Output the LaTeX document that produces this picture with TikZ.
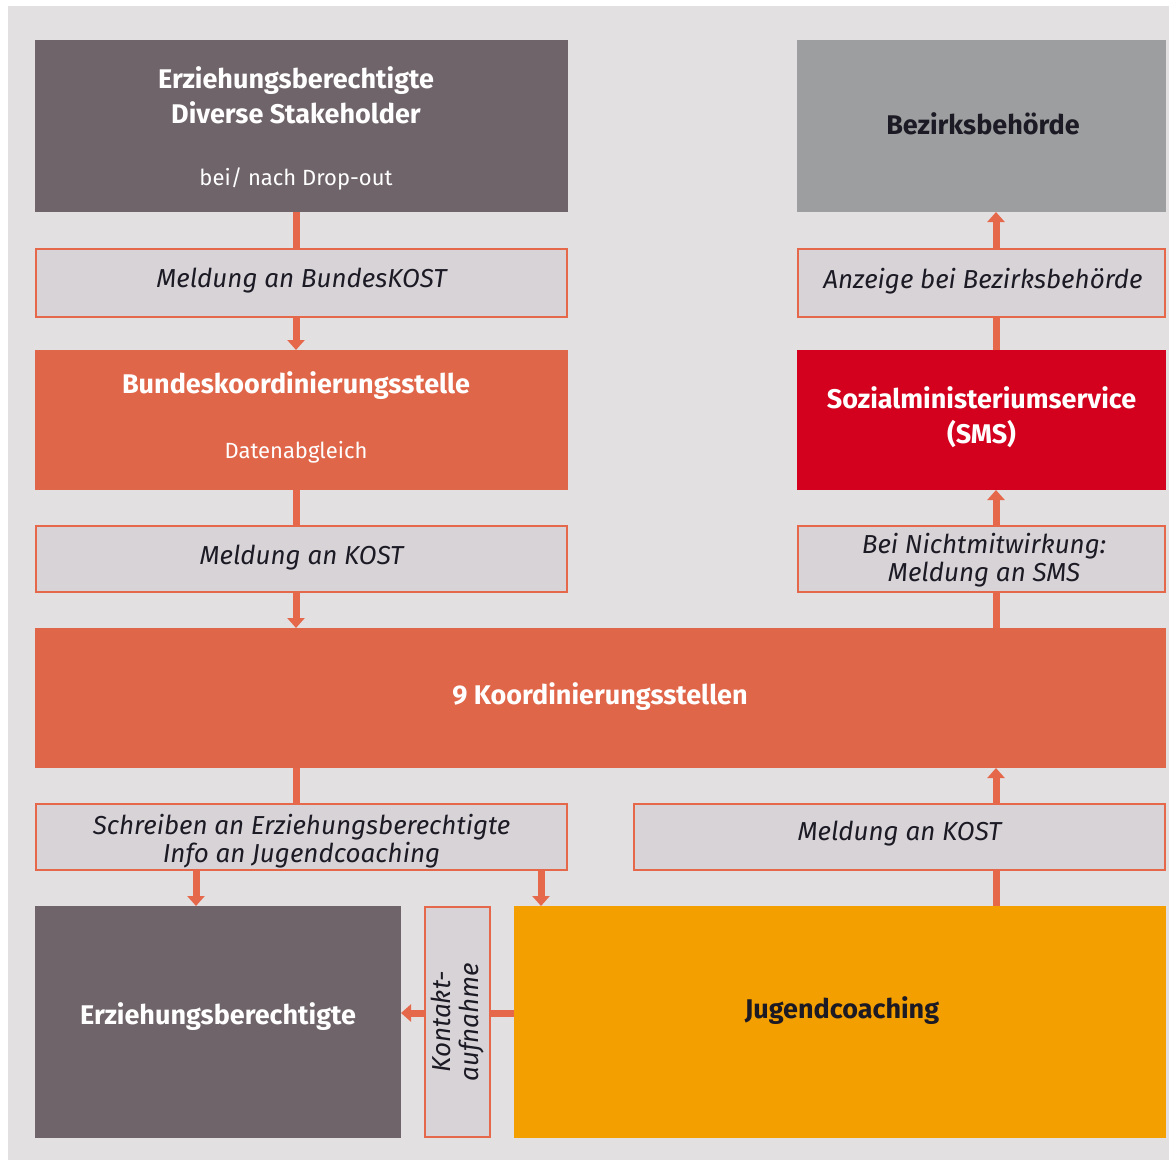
\documentclass[tikz,border=0pt]{standalone}
\usepackage{fontspec}
\setmainfont{Fira Sans}
\usetikzlibrary{arrows.meta,calc}
\definecolor{bgc}{HTML}{E3E0E1}
\definecolor{darkc}{HTML}{6F6469}
\definecolor{labfill}{HTML}{D8D3D7}
\definecolor{orc}{HTML}{E0664A}
\definecolor{orline}{HTML}{E5684B}
\definecolor{grayc}{HTML}{9D9E9F}
\definecolor{redc}{HTML}{D3001E}
\definecolor{yelc}{HTML}{F39F00}
\definecolor{txtc}{HTML}{1C1A24}
\tikzset{
  box/.style={rectangle, inner sep=0pt, outer sep=0pt, draw=none},
  labbox/.style={rectangle, inner sep=0pt, outer sep=0pt, fill=labfill, draw=orline, line width=2pt},
  bigtxt/.style={font=\fontsize{27}{35}\selectfont\bfseries, align=center, inner sep=0pt},
  subtxt/.style={font=\fontsize{22}{28}\selectfont, align=center, inner sep=0pt},
  labtxt/.style={font=\fontsize{26}{28}\selectfont\itshape, text=txtc, align=center, inner sep=0pt},
  conn/.style={draw=orline, line width=7pt},
  arr/.style={conn, -{Triangle[width=17pt,length=10pt]}},
}
\begin{document}
\begin{tikzpicture}[x=1pt,y=-1pt]
\useasboundingbox (0,0) rectangle (1169,1160);
\fill[bgc] (8,6) rectangle (1169,1160);
% helper coordinates for connector lines
\coordinate (lx) at (296,0);
\coordinate (rx) at (996,0);
\coordinate (ax) at (196,0);
\coordinate (bx) at (541,0);
\coordinate (ky) at (0,1013);
% left column
\node[box, fill=darkc, minimum width=533pt, minimum height=172pt] (b1) at (301.5,126) {};
\node[bigtxt, text=white] (b1t) at (296,95) {Erziehungsberechtigte\\Diverse Stakeholder};
\node[subtxt, text=white] (b1s) at (296,179) {bei/ nach Drop-out};
\node[labbox, minimum width=531pt, minimum height=68pt] (l1) at (301.5,283) {};
\node[labtxt] (l1t) at (301.5,281) {Meldung an BundesKOST};
\node[box, fill=orc, minimum width=533pt, minimum height=140pt] (b2) at (301.5,420) {};
\node[bigtxt, text=white] (b2t) at (296,386) {Bundeskoordinierungsstelle};
\node[subtxt, text=white] (b2s) at (296,452) {Datenabgleich};
\node[labbox, minimum width=531pt, minimum height=66pt] (l2) at (301.5,559) {};
\node[labtxt] (l2t) at (301.5,558) {Meldung an KOST};
% right column
\node[box, fill=grayc, minimum width=369pt, minimum height=172pt] (bz) at (981.5,126) {};
\node[bigtxt, text=txtc] (bzt) at (983,124) {Bezirksbehörde};
\node[labbox, minimum width=367pt, minimum height=68pt] (l5) at (981.5,283) {};
\node[labtxt] (l5t) at (983,281) {Anzeige bei Bezirksbehörde};
\node[box, fill=redc, minimum width=369pt, minimum height=140pt] (sms) at (981.5,420) {};
\node[bigtxt, text=white] (smst) at (981.5,417) {Sozialministeriumservice\\(SMS)};
\node[labbox, minimum width=367pt, minimum height=66pt] (l6) at (981.5,559) {};
\node[labtxt] (l6t) at (984,560) {Bei Nichtmitwirkung:\\Meldung an SMS};
% middle
\node[box, fill=orc, minimum width=1131pt, minimum height=140pt] (b3) at (600.5,698) {};
\node[bigtxt, text=white] (b3t) at (600,697) {9 Koordinierungsstellen};
\node[labbox, minimum width=531pt, minimum height=66pt] (l3) at (301.5,837) {};
\node[labtxt] (l3t) at (301.5,841) {Schreiben an Erziehungsberechtigte\\Info an Jugendcoaching};
\node[labbox, minimum width=531pt, minimum height=66pt] (l4) at (899.5,837) {};
\node[labtxt] (l4t) at (899.5,834) {Meldung an KOST};
% bottom
\node[box, fill=darkc, minimum width=366pt, minimum height=232pt] (b4) at (218,1022) {};
\node[bigtxt, text=white] (b4t) at (218,1017) {Erziehungsberechtigte};
\node[labbox, minimum width=65pt, minimum height=230pt] (kt) at (457.5,1022) {};
\node[labtxt, rotate=90] (ktt) at (458,1022) {Kontakt-\\aufnahme};
\node[box, fill=yelc, minimum width=652pt, minimum height=232pt] (jc) at (840,1022) {};
\node[bigtxt, text=txtc] (jct) at (842,1011) {Jugendcoaching};
% connectors
\draw[conn] (b1.south -| lx) -- (l1.north -| lx);
\draw[arr] (l1.south -| lx) -- (b2.north -| lx);
\draw[conn] (b2.south -| lx) -- (l2.north -| lx);
\draw[arr] (l2.south -| lx) -- (b3.north -| lx);
\draw[conn] (b3.south -| lx) -- (l3.north -| lx);
\draw[arr] (l3.south -| ax) -- (b4.north -| ax);
\draw[arr] (l3.south -| bx) -- (jc.north -| bx);
\draw[conn] (jc.north -| rx) -- (l4.south -| rx);
\draw[arr] (l4.north -| rx) -- (b3.south -| rx);
\draw[conn] (b3.north -| rx) -- (l6.south -| rx);
\draw[arr] (l6.north -| rx) -- (sms.south -| rx);
\draw[conn] (sms.north -| rx) -- (l5.south -| rx);
\draw[arr] (l5.north -| rx) -- (bz.south -| rx);
\draw[conn] (jc.west |- ky) -- (kt.east |- ky);
\draw[arr] (kt.west |- ky) -- (b4.east |- ky);
\end{tikzpicture}
\end{document}
